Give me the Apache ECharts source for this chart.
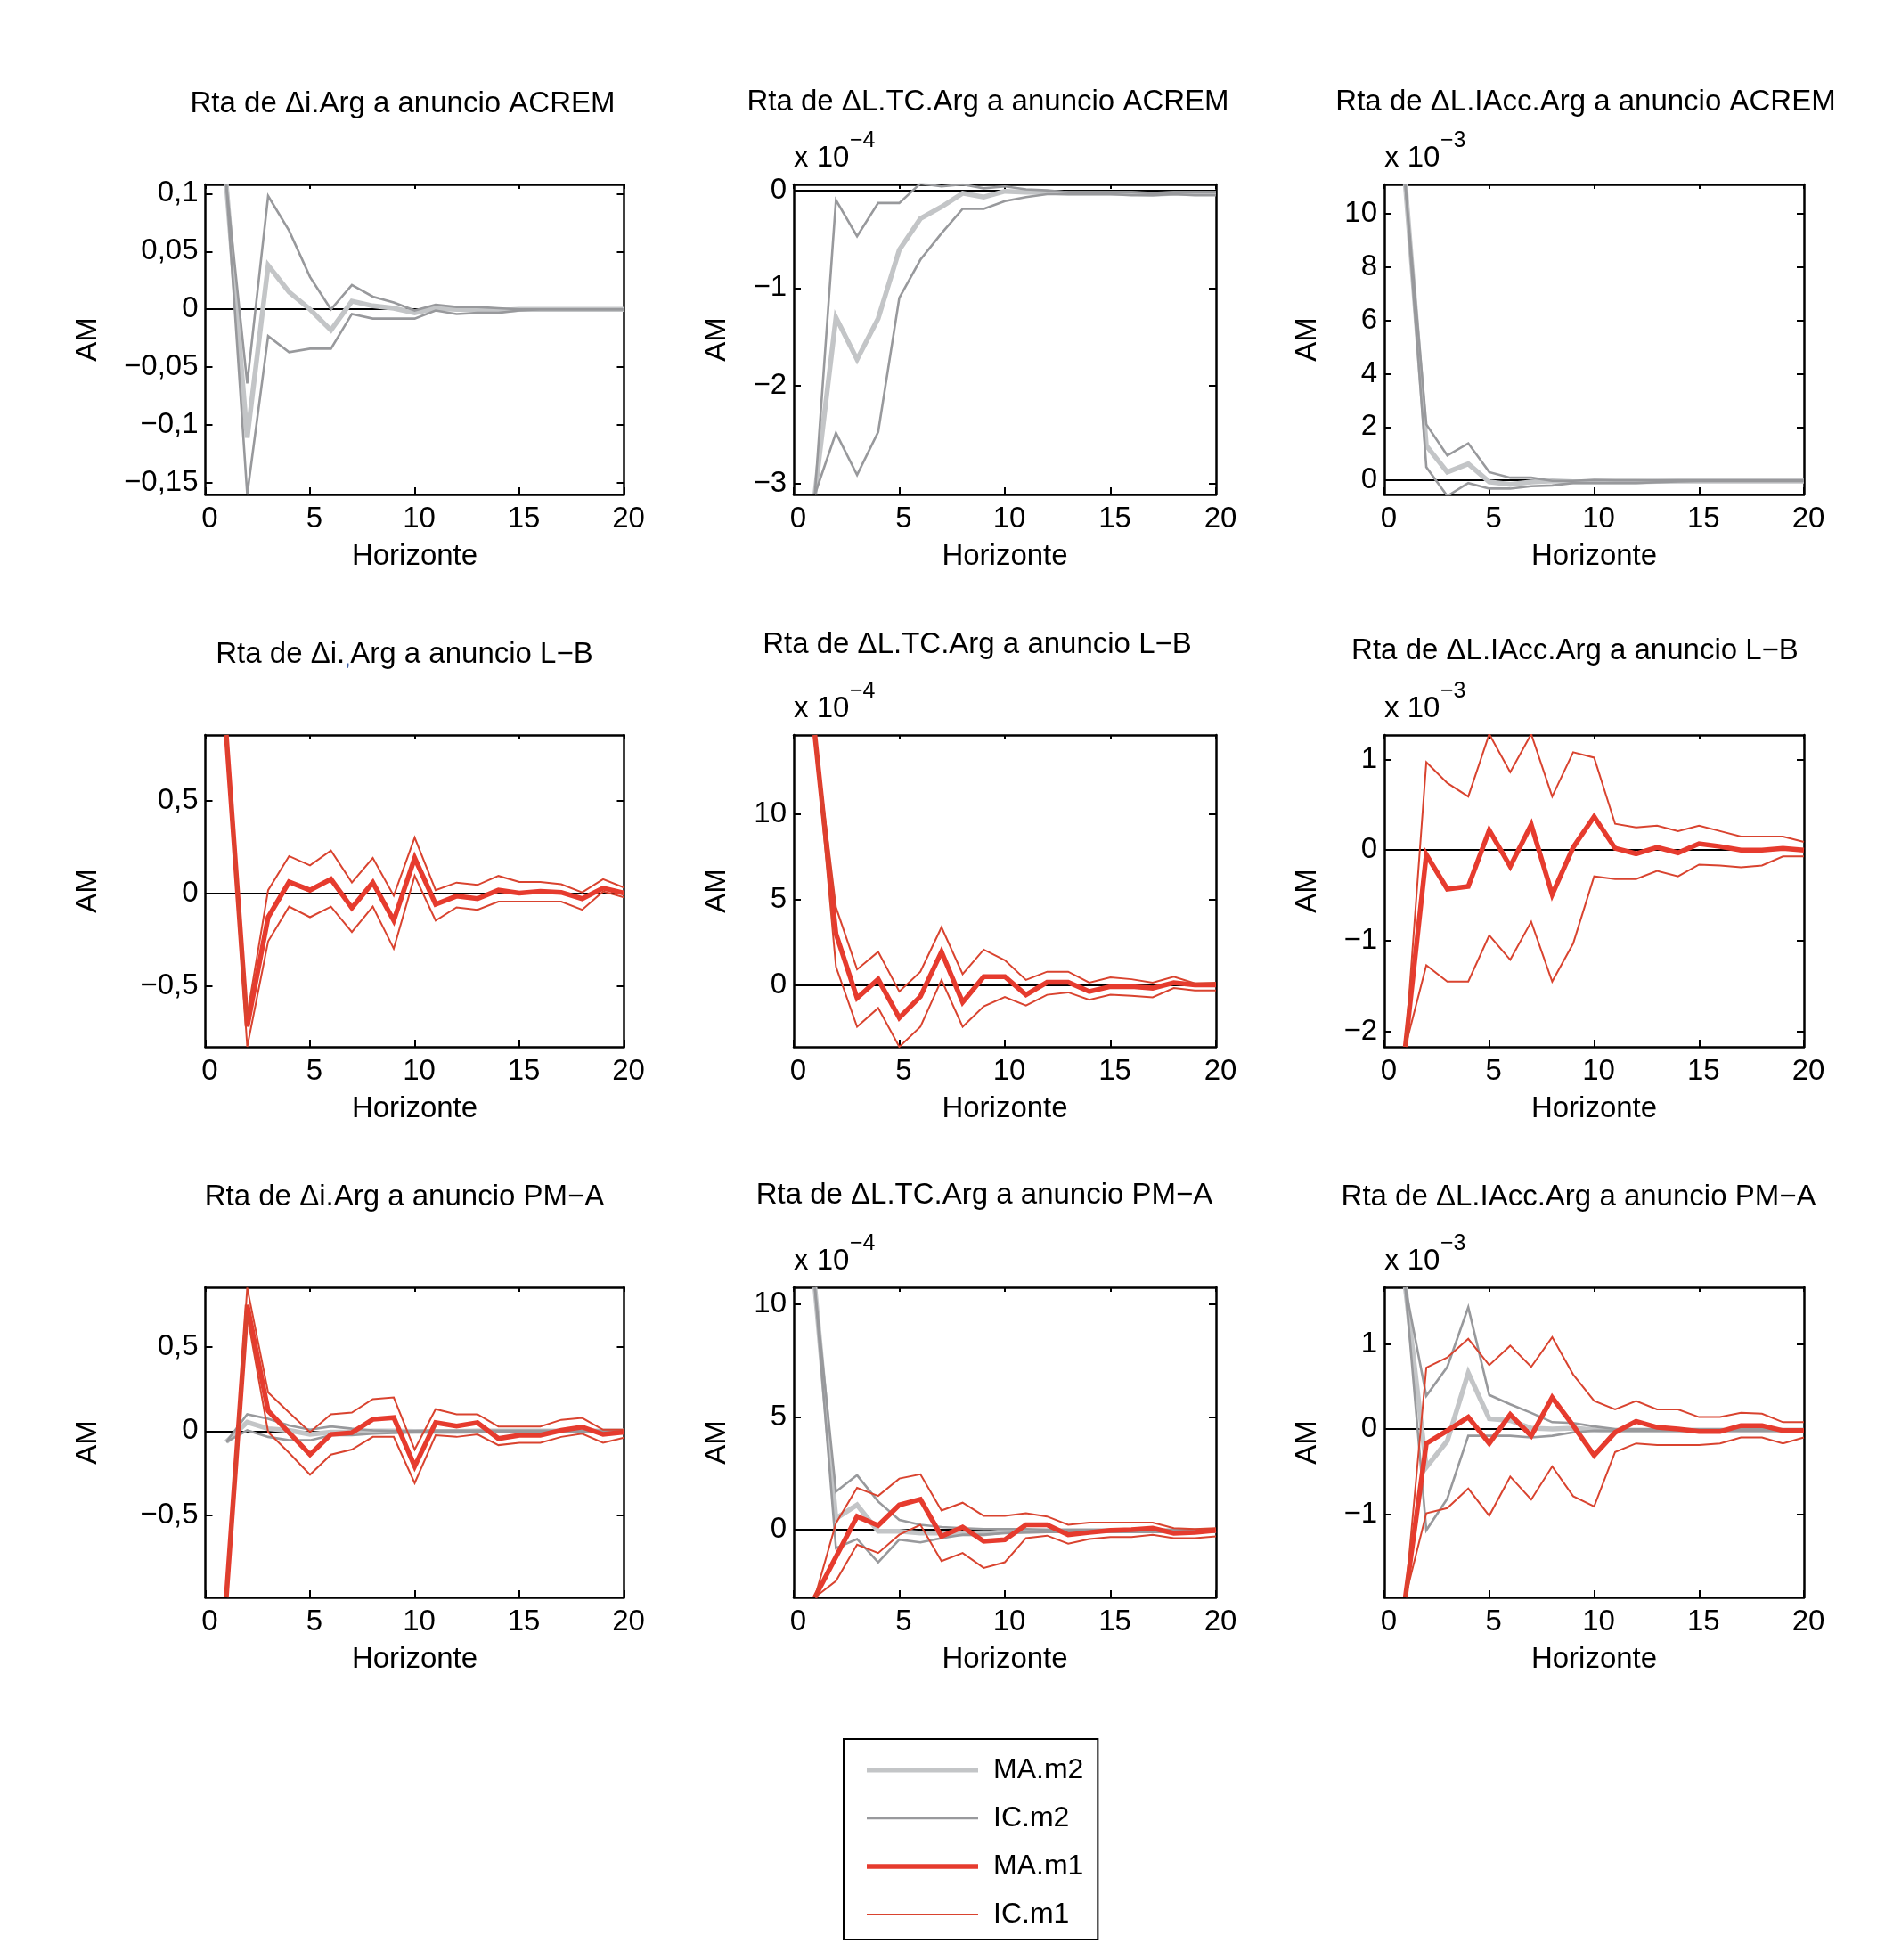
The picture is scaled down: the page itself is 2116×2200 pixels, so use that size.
<!DOCTYPE html>
<html><head><meta charset="utf-8">
<script src="https://cdn.jsdelivr.net/npm/echarts@6/dist/echarts.min.js"></script>
<style>html,body{margin:0;padding:0;background:#fff}#c{width:2116px;height:2200px}</style>
</head><body><div id="c"></div>
<script>
// ---------- DATA (values in the units shown on each y axis) ----------
const horizon = [1,2,3,4,5,6,7,8,9,10,11,12,13,14,15,16,17,18,19,20];
const seriesNames = ['MA.m2','IC.m2','MA.m1','IC.m1'];

// Panel 1: Δi.Arg / ACREM
const p1_MA_m2 = [0.108,-0.111,0.038,0.015,0.000,-0.018,0.007,0.003,0.001,-0.003,0.001,0.000,0.000,-0.001,0.000,0.000,0.000,0.000,0.000,0.000];
const p1_IC_m2_up = [0.108,-0.064,0.098,0.068,0.028,0.000,0.021,0.011,0.006,-0.001,0.004,0.002,0.002,0.001,0.000,0.000,0.000,0.000,0.000,0.000];
const p1_IC_m2_lo = [0.108,-0.160,-0.023,-0.037,-0.034,-0.034,-0.004,-0.008,-0.008,-0.008,-0.001,-0.004,-0.003,-0.003,-0.001,0.000,0.000,0.000,0.000,0.000];
// Panel 2: ΔL.TC.Arg / ACREM  (x 10^-4)
const p2_MA_m2 = [-3.11,-1.30,-1.73,-1.31,-0.61,-0.29,-0.17,-0.03,-0.07,-0.01,-0.02,-0.02,-0.03,-0.03,-0.03,-0.03,-0.04,-0.03,-0.03,-0.03];
const p2_IC_m2_up = [-3.11,-0.10,-0.47,-0.13,-0.13,0.07,0.04,0.06,0.02,0.04,0.01,0.00,-0.02,-0.02,-0.02,-0.02,-0.03,-0.02,-0.02,-0.02];
const p2_IC_m2_lo = [-3.11,-2.48,-2.91,-2.47,-1.10,-0.71,-0.44,-0.19,-0.19,-0.11,-0.07,-0.04,-0.04,-0.04,-0.04,-0.05,-0.05,-0.04,-0.05,-0.05];
// Panel 3: ΔL.IAcc.Arg / ACREM  (x 10^-3)
const p3_MA_m2 = [11.11,1.30,0.31,0.62,-0.06,-0.15,-0.06,-0.02,-0.05,-0.05,-0.05,-0.05,-0.04,-0.03,-0.03,-0.03,-0.03,-0.03,-0.03,-0.03];
const p3_IC_m2_up = [11.11,2.10,0.93,1.39,0.31,0.10,0.10,-0.02,-0.02,0.02,0.01,0.01,0.00,0.00,0.00,0.00,0.00,0.00,0.00,0.00];
const p3_IC_m2_lo = [11.11,0.50,-0.59,-0.10,-0.31,-0.31,-0.22,-0.19,-0.10,-0.10,-0.10,-0.10,-0.07,-0.04,-0.03,-0.03,-0.03,-0.03,-0.03,-0.03];
// Panel 4: Δi.Arg / L−B
const p4_MA_m1 = [0.854,-0.72,-0.13,0.06,0.016,0.075,-0.08,0.057,-0.148,0.19,-0.06,-0.016,-0.03,0.016,0.0,0.01,0.004,-0.03,0.027,0.0];
const p4_IC_m1_up = [0.854,-0.66,0.016,0.20,0.15,0.23,0.057,0.19,-0.014,0.30,0.016,0.057,0.044,0.093,0.06,0.06,0.048,0.004,0.075,0.03];
const p4_IC_m1_lo = [0.854,-0.83,-0.26,-0.073,-0.13,-0.073,-0.21,-0.073,-0.30,0.093,-0.148,-0.077,-0.09,-0.046,-0.046,-0.046,-0.046,-0.09,0.009,-0.023];
// Panel 5: ΔL.TC.Arg / L−B  (x 10^-4)
const p5_MA_m1 = [14.64,3.02,-0.73,0.37,-1.89,-0.64,1.97,-0.98,0.52,0.52,-0.54,0.19,0.19,-0.35,-0.06,-0.06,-0.15,0.17,0.04,0.04];
const p5_IC_m1_up = [14.64,4.57,0.94,1.97,-0.35,0.81,3.41,0.67,2.10,1.48,0.33,0.81,0.81,0.17,0.48,0.37,0.17,0.52,0.13,0.17];
const p5_IC_m1_lo = [14.64,1.10,-2.41,-1.31,-3.58,-2.41,0.33,-2.41,-1.21,-0.67,-1.17,-0.54,-0.40,-0.83,-0.54,-0.60,-0.69,-0.15,-0.29,-0.29];
// Panel 6: ΔL.IAcc.Arg / L−B  (x 10^-3)
const p6_MA_m1 = [-2.17,-0.05,-0.43,-0.40,0.22,-0.18,0.28,-0.49,0.03,0.37,0.02,-0.04,0.03,-0.03,0.07,0.04,0.00,0.00,0.02,0.00];
const p6_IC_m1_up = [-2.17,0.97,0.74,0.59,1.28,0.86,1.28,0.59,1.08,1.02,0.29,0.25,0.27,0.21,0.27,0.21,0.15,0.15,0.15,0.09];
const p6_IC_m1_lo = [-2.17,-1.27,-1.45,-1.45,-0.94,-1.21,-0.79,-1.45,-1.03,-0.29,-0.32,-0.32,-0.23,-0.29,-0.16,-0.17,-0.19,-0.17,-0.07,-0.07];
// Panel 7: Δi.Arg / PM−A
const p7_MA_m2 = [-0.065,0.053,0.014,0.004,-0.020,-0.006,-0.006,0.000,0.000,-0.002,-0.002,-0.002,0.000,0.000,0.000,0.000,0.000,0.000,0.000,0.000];
const p7_IC_m2_up = [-0.065,0.100,0.073,0.033,0.008,0.027,0.014,0.004,0.000,0.000,0.002,0.002,0.002,0.002,0.002,0.002,0.002,0.002,0.002,0.002];
const p7_IC_m2_lo = [-0.065,0.004,-0.035,-0.055,-0.055,-0.025,-0.025,-0.016,-0.012,-0.008,-0.005,-0.005,-0.004,-0.004,-0.003,-0.003,-0.003,-0.003,-0.003,-0.003];
const p7_MA_m1 = [-0.99,0.75,0.12,-0.01,-0.14,-0.02,-0.01,0.07,0.08,-0.21,0.05,0.03,0.05,-0.045,-0.025,-0.025,0.004,0.024,-0.02,-0.006];
const p7_IC_m1_up = [-0.99,0.853,0.23,0.11,-0.006,0.10,0.11,0.19,0.20,-0.11,0.13,0.10,0.10,0.027,0.027,0.027,0.067,0.078,0.008,0.008];
const p7_IC_m1_lo = [-0.99,0.69,-0.006,-0.13,-0.26,-0.14,-0.11,-0.035,-0.035,-0.31,-0.025,-0.035,-0.02,-0.084,-0.07,-0.07,-0.035,-0.016,-0.07,-0.04];
// Panel 8: ΔL.TC.Arg / PM−A  (x 10^-4)
const p8_MA_m2 = [10.75,0.50,1.10,-0.07,-0.07,-0.15,-0.15,-0.18,-0.18,-0.07,-0.07,-0.05,-0.05,-0.05,-0.05,-0.05,-0.05,-0.05,-0.05,-0.05];
const p8_IC_m2_up = [10.75,1.69,2.42,1.25,0.44,0.22,0.12,0.07,0.03,0.03,0.03,0.00,0.00,0.00,0.00,0.00,0.00,0.00,0.00,0.00];
const p8_IC_m2_lo = [10.75,-0.81,-0.41,-1.44,-0.44,-0.56,-0.37,-0.22,-0.22,-0.15,-0.12,-0.10,-0.10,-0.10,-0.10,-0.10,-0.10,-0.10,-0.10,-0.10];
const p8_MA_m1 = [-3.00,-1.20,0.59,0.19,1.10,1.35,-0.29,0.12,-0.51,-0.44,0.22,0.22,-0.22,-0.12,-0.03,0.00,0.07,-0.15,-0.12,-0.03];
const p8_IC_m1_up = [-3.00,0.29,1.86,1.50,2.27,2.46,0.85,1.20,0.62,0.62,0.73,0.59,0.22,0.32,0.32,0.32,0.32,0.07,0.03,0.07];
const p8_IC_m1_lo = [-3.00,-2.27,-0.66,-1.03,-0.22,0.22,-1.39,-1.03,-1.69,-1.44,-0.37,-0.26,-0.62,-0.41,-0.32,-0.32,-0.22,-0.37,-0.37,-0.29];
// Panel 9: ΔL.IAcc.Arg / PM−A  (x 10^-3)
const p9_MA_m2 = [1.665,-0.45,-0.14,0.66,0.12,0.10,0.01,0.00,0.01,-0.01,-0.02,-0.02,-0.02,-0.02,-0.02,-0.02,-0.02,-0.02,-0.02,-0.02];
const p9_IC_m2_up = [1.665,0.39,0.73,1.43,0.40,0.29,0.19,0.08,0.07,0.03,0.00,0.00,0.00,0.00,0.00,0.00,0.00,0.00,0.00,0.00];
const p9_IC_m2_lo = [1.665,-1.19,-0.82,-0.08,-0.08,-0.08,-0.10,-0.08,-0.04,-0.02,-0.02,-0.02,-0.02,-0.02,-0.02,-0.02,-0.02,-0.02,-0.02,-0.02];
const p9_MA_m1 = [-1.98,-0.17,-0.02,0.14,-0.17,0.17,-0.08,0.37,0.04,-0.31,-0.04,0.09,0.02,0.00,-0.03,-0.03,0.04,0.04,-0.02,-0.02];
const p9_IC_m1_up = [-1.98,0.72,0.84,1.06,0.75,0.98,0.73,1.08,0.64,0.33,0.23,0.33,0.23,0.23,0.14,0.14,0.19,0.18,0.08,0.08];
const p9_IC_m1_lo = [-1.98,-0.99,-0.93,-0.70,-1.02,-0.56,-0.83,-0.44,-0.79,-0.91,-0.27,-0.17,-0.19,-0.19,-0.19,-0.17,-0.10,-0.10,-0.17,-0.10];

// Titles, axis ticks, axis limits, scale exponents
const panelTitles = [
  'Rta de Δi.Arg a anuncio ACREM','Rta de ΔL.TC.Arg a anuncio ACREM','Rta de ΔL.IAcc.Arg a anuncio ACREM',
  'Rta de Δi.,Arg a anuncio L−B','Rta de ΔL.TC.Arg a anuncio L−B','Rta de ΔL.IAcc.Arg a anuncio L−B',
  'Rta de Δi.Arg a anuncio PM−A','Rta de ΔL.TC.Arg a anuncio PM−A','Rta de ΔL.IAcc.Arg a anuncio PM−A'];
const yTickValues = [
  [-0.15,-0.1,-0.05,0,0.05,0.1],[-3,-2,-1,0],[0,2,4,6,8,10],
  [-0.5,0,0.5],[0,5,10],[-2,-1,0,1],
  [-0.5,0,0.5],[0,5,10],[-1,0,1]];
const yMin = [-0.16,-3.11,-0.53,-0.83,-3.58,-2.17,-0.99,-3.0,-1.98];
const yMax = [0.108,0.06,11.11,0.854,14.64,1.27,0.855,10.75,1.665];
const scaleExponent = [null,'−4','−3',null,'−4','−3',null,'−4','−3'];

const panelSeries = [
  {m2:[p1_MA_m2,p1_IC_m2_up,p1_IC_m2_lo]},
  {m2:[p2_MA_m2,p2_IC_m2_up,p2_IC_m2_lo]},
  {m2:[p3_MA_m2,p3_IC_m2_up,p3_IC_m2_lo]},
  {m1:[p4_MA_m1,p4_IC_m1_up,p4_IC_m1_lo]},
  {m1:[p5_MA_m1,p5_IC_m1_up,p5_IC_m1_lo]},
  {m1:[p6_MA_m1,p6_IC_m1_up,p6_IC_m1_lo]},
  {m2:[p7_MA_m2,p7_IC_m2_up,p7_IC_m2_lo], m1:[p7_MA_m1,p7_IC_m1_up,p7_IC_m1_lo]},
  {m2:[p8_MA_m2,p8_IC_m2_up,p8_IC_m2_lo], m1:[p8_MA_m1,p8_IC_m1_up,p8_IC_m1_lo]},
  {m2:[p9_MA_m2,p9_IC_m2_up,p9_IC_m2_lo], m1:[p9_MA_m1,p9_IC_m1_up,p9_IC_m1_lo]}
];

// ---------- LAYOUT / STYLE ----------
const FONT = 'Liberation Sans, Arial, Helvetica, sans-serif';
const colLeft = [230.5, 891, 1554];
const colWidth = [470, 474, 471];
const rowTop = [207, 825, 1445];
const rowHeight = [348, 350, 348];
const amGap = [115, 70, 70];
const titleCenter = [[452,117],[1109,115],[1780,115],[454,735],[1097,724],[1768,731],[454,1344],[1105,1342],[1772,1344]];
const styleMap = {
  'MA.m2': {color:'#c3c5c7', width:5.5, z:3},
  'IC.m2': {color:'#98999c', width:2.6, z:4},
  'MA.m1': {color:'#e63b2e', width:5.5, z:5},
  'IC.m1': {color:'#d9432f', width:2, z:6}
};

function fmt(v){
  const r = Math.round(v*1e6)/1e6;
  if (r === 0) return '0';
  return (r < 0 ? '−' : '') + String(Math.abs(r)).replace('.', ',');
}
function iconPath(t){
  const a = 10 - t/2, b = 10 + t/2;
  return 'path://M0,0L0.01,0L0.01,0.01ZM0,20L0.01,20L0.01,19.99ZM125,0L124.99,0L124.99,0.01Z' +
         'M0,' + a + 'L125,' + a + 'L125,' + b + 'L0,' + b + 'Z';
}

const grids = [], xAxes = [], yAxes = [], series = [], titles = [];
const txt = {fontFamily: FONT, fontSize: 33, color: '#000', fontWeight: 'normal'};
const axisLineStyle = {color:'#000', width:2.5};
const tickLineStyle = {color:'#000', width:2};

for (let i = 0; i < 9; i++) {
  const r = Math.floor(i/3), c = i % 3;
  const left = colLeft[c], top = rowTop[r], w = colWidth[c], h = rowHeight[r];
  grids.push({left, top, width:w, height:h, containLabel:false, outerBoundsMode:'none', show:false});
  xAxes.push({gridIndex:i, type:'value', position:'bottom', min:0, max:20, interval:5,
    axisLine:{show:true, onZero:false, lineStyle:axisLineStyle},
    axisTick:{show:true, inside:true, length:8, lineStyle:tickLineStyle},
    axisLabel:{show:true, margin:11, padding:[0,0,0,10], ...txt},
    splitLine:{show:false},
    name:'Horizonte', nameLocation:'middle', nameGap:53, nameTextStyle:{...txt}});
  xAxes.push({gridIndex:i, type:'value', position:'top', min:0, max:20, interval:5,
    axisLine:{show:true, onZero:false, lineStyle:axisLineStyle},
    axisTick:{show:true, inside:true, length:5, lineStyle:tickLineStyle},
    axisLabel:{show:false}, splitLine:{show:false}});
  yAxes.push({gridIndex:i, type:'value', position:'left', min:yMin[i], max:yMax[i],
    axisLine:{show:true, onZero:false, lineStyle:axisLineStyle},
    axisTick:{show:true, inside:true, length:8, lineStyle:tickLineStyle, customValues:yTickValues[i]},
    axisLabel:{show:true, margin:8, formatter:fmt, customValues:yTickValues[i], ...txt},
    splitLine:{show:false},
    name:'AM', nameLocation:'middle', nameRotate:90, nameGap:amGap[c], nameTextStyle:{...txt}});
  yAxes.push({gridIndex:i, type:'value', position:'right', min:yMin[i], max:yMax[i],
    axisLine:{show:true, onZero:false, lineStyle:axisLineStyle},
    axisTick:{show:true, inside:true, length:8, lineStyle:tickLineStyle, customValues:yTickValues[i]},
    axisLabel:{show:false}, splitLine:{show:false}});

  // zero reference line (drawn beneath the curves)
  series.push({type:'line', xAxisIndex:2*i, yAxisIndex:2*i, data:[], silent:true,
    markLine:{silent:true, symbol:'none', z:1, animation:false, label:{show:false},
      lineStyle:{color:'#000', width:2, type:'solid'}, emphasis:{disabled:true}, data:[{yAxis:0}]}});

  const groups = [['m2','MA.m2','IC.m2'],['m1','MA.m1','IC.m1']];
  groups.forEach(([key, maName, icName]) => {
    const arrs = panelSeries[i][key];
    if (!arrs) return;
    [maName, icName, icName].forEach((name, k) => {
      const st = styleMap[name];
      series.push({type:'line', name, xAxisIndex:2*i, yAxisIndex:2*i,
        data: horizon.map((hz, j) => [hz, arrs[k][j]]),
        symbol:'none', showSymbol:false, silent:true, clip:true, animation:false, z:st.z,
        itemStyle:{color:st.color},
        lineStyle:{color:st.color, width:st.width, join:'miter', miterLimit:4}});
    });
  });

  // titles
  const [tx, ty] = titleCenter[i];
  if (i === 3) {
    titles.push({text:'{a|Rta de Δi.}{c|,}{a|Arg a anuncio L−B}', left:tx, top:ty-20, textAlign:'center', padding:0,
      textStyle:{fontWeight:'normal', rich:{
        a:{fontFamily:FONT, fontSize:33, fontWeight:'normal', color:'#000', lineHeight:40},
        c:{fontFamily:FONT, fontSize:22, fontWeight:'normal', color:'#4062a8', lineHeight:40, padding:[12,0,0,0]}}}});
  } else {
    titles.push({text:panelTitles[i], left:tx, top:ty-20, textAlign:'center', padding:0,
      textStyle:{...txt, lineHeight:40}});
  }
  if (scaleExponent[i]) {
    titles.push({text:'x 10', left:left, top:top-29-20, padding:0, textStyle:{...txt, lineHeight:40}});
    titles.push({text:scaleExponent[i], left:left+63, top:top-49-15, padding:0,
      textStyle:{fontFamily:FONT, fontSize:25, color:'#000', fontWeight:'normal', lineHeight:30}});
  }
}

const legendWidths = {'MA.m2':5, 'IC.m2':2.7, 'MA.m1':5.5, 'IC.m1':1.8};
const option = {
  backgroundColor:'#fff',
  animation:false,
  title: titles,
  grid: grids, xAxis: xAxes, yAxis: yAxes, series,
  legend: {
    orient:'vertical', left:947, top:1952, height:205,
    data: seriesNames.map(n => ({name:n, icon:iconPath(legendWidths[n])})),
    itemWidth:125, itemHeight:20, itemGap:18,
    padding:[17,16,10,26], borderColor:'#000', borderWidth:2, backgroundColor:'#fff',
    selectedMode:false,
    itemStyle:{borderWidth:0},
    textStyle:{fontFamily:FONT, fontSize:32, color:'#000', lineHeight:36, padding:[0,0,0,12]}
  }
};
const chart = echarts.init(document.getElementById('c'), null, {renderer:'canvas'});
chart.setOption(option);
</script></body></html>
